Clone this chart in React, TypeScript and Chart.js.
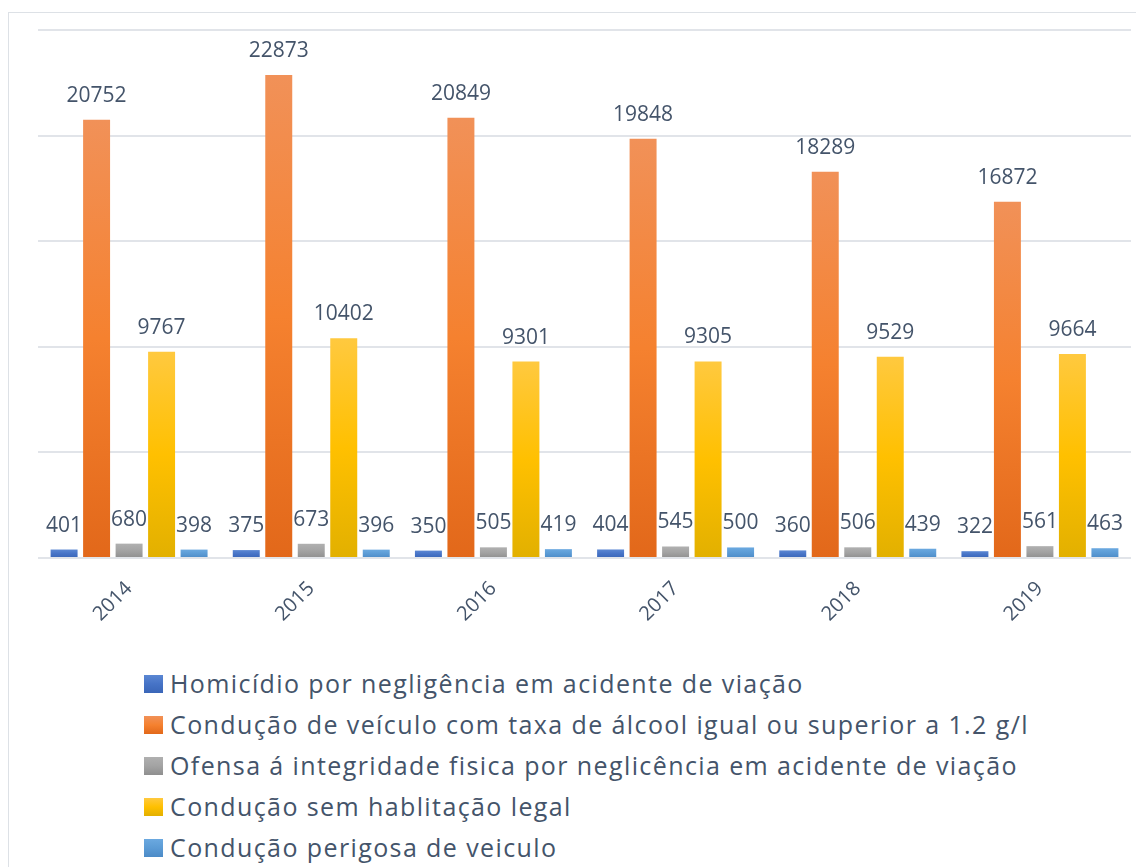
import React, { useEffect, useRef } from "react";
import { Chart, registerables } from "chart.js";

Chart.register(...registerables);

const years = ["2014", "2015", "2016", "2017", "2018", "2019"];
const seriesNames = [
  "Homicídio por negligência em acidente de viação",
  "Condução de veículo com taxa de álcool igual ou superior a 1.2 g/l",
  "Ofensa á integridade fisica por neglicência em acidente de viação",
  "Condução sem hablitação legal",
  "Condução perigosa de veiculo",
];
const homicidio = [401, 375, 350, 404, 360, 322];
const alcool = [20752, 22873, 20849, 19848, 18289, 16872];
const ofensa = [680, 673, 505, 545, 506, 561];
const semHabilitacao = [9767, 10402, 9301, 9305, 9529, 9664];
const perigosa = [398, 396, 419, 500, 439, 463];
const seriesValues = [homicidio, alcool, ofensa, semHabilitacao, perigosa];

// gradient stops: top, middle, bottom
const seriesGradients = [
  ["#5B87D3", "#4673C6", "#3A66B8"],
  ["#F19158", "#F5812F", "#E2681A"],
  ["#B0B0B0", "#A3A3A3", "#8F8F8F"],
  ["#FFC93F", "#FFC000", "#E2B000"],
  ["#6BA9E0", "#5B9BD5", "#4C8BC7"],
];

const TEXT = "#44546A";
const FONT = "'Open Sans', 'Noto Sans', sans-serif";

const valueLabels = {
  id: "valueLabels",
  afterDatasetsDraw(chart: any) {
    const ctx = chart.ctx;
    ctx.save();
    ctx.font = `21px ${FONT}`;
    ctx.fillStyle = TEXT;
    ctx.textAlign = "center";
    ctx.textBaseline = "alphabetic";
    chart.data.datasets.forEach((ds: any, i: number) => {
      const meta = chart.getDatasetMeta(i);
      meta.data.forEach((el: any, j: number) => {
        ctx.fillText(String(ds.data[j]), el.x, el.y - 18);
      });
    });
    ctx.restore();
  },
};

export default function App() {
  const ref = useRef<HTMLCanvasElement | null>(null);

  useEffect(() => {
    if (!ref.current) return;
    const chart = new Chart(ref.current, {
      type: "bar",
      data: {
        labels: years,
        datasets: seriesNames.map((name, i) => ({
          label: name,
          data: seriesValues[i],
          backgroundColor: (c: any) => {
            const stops = seriesGradients[i];
            if (c.type !== "data" || !c.chart.scales || !c.chart.scales.y) return stops[1];
            const y = c.chart.scales.y;
            const top = y.getPixelForValue(c.raw);
            const bottom = y.getPixelForValue(0);
            if (!isFinite(top) || !isFinite(bottom) || top === bottom) return stops[1];
            const g = c.chart.ctx.createLinearGradient(0, top, 0, bottom);
            g.addColorStop(0, stops[0]);
            g.addColorStop(0.5, stops[1]);
            g.addColorStop(1, stops[2]);
            return g;
          },
          borderWidth: 0,
          categoryPercentage: 0.892,
          barPercentage: 0.83,
        })),
      },
      options: {
        responsive: false,
        animation: false,
        layout: { padding: { left: 38, right: 5, top: 30, bottom: 12 } },
        plugins: {
          legend: { display: false },
          tooltip: { enabled: false },
        },
        scales: {
          x: {
            grid: { display: false },
            border: { display: false },
            ticks: {
              color: TEXT,
              font: { family: FONT, size: 20 },
              minRotation: 45,
              maxRotation: 45,
              padding: 11,
            },
            afterFit: (scale: any) => {
              scale.height = 80;
            },
          },
          y: {
            min: 0,
            max: 25000,
            ticks: { display: false, stepSize: 5000 },
            grid: { color: "#E1E4E9", lineWidth: 2, drawTicks: false },
            border: { display: false },
          },
        },
      },
      plugins: [valueLabels],
    });
    return () => chart.destroy();
  }, []);

  return (
    <div>
      <div
        style={{
          position: "fixed",
          left: 8,
          top: 12,
          right: -10,
          bottom: -10,
          border: "1px solid #DDE1E6",
          background: "#fff",
        }}
      />
      <canvas
        ref={ref}
        width={1136}
        height={650}
        style={{ position: "fixed", left: 0, top: 0, width: 1136, height: 650 }}
      />
      <div
        style={{
          position: "fixed",
          left: 144,
          top: 663,
          fontFamily: FONT,
          fontSize: 25,
          letterSpacing: "1.4px",
          color: TEXT,
          lineHeight: "41px",
        }}
      >
        {seriesNames.map((name, i) => (
          <div key={name} style={{ display: "flex", alignItems: "center", whiteSpace: "nowrap" }}>
            <span
              style={{
                display: "inline-block",
                width: 19,
                height: 18,
                marginRight: 7,
                background: `linear-gradient(${seriesGradients[i][0]}, ${seriesGradients[i][1]}, ${seriesGradients[i][2]})`,
              }}
            />
            <span>{name}</span>
          </div>
        ))}
      </div>
    </div>
  );
}
